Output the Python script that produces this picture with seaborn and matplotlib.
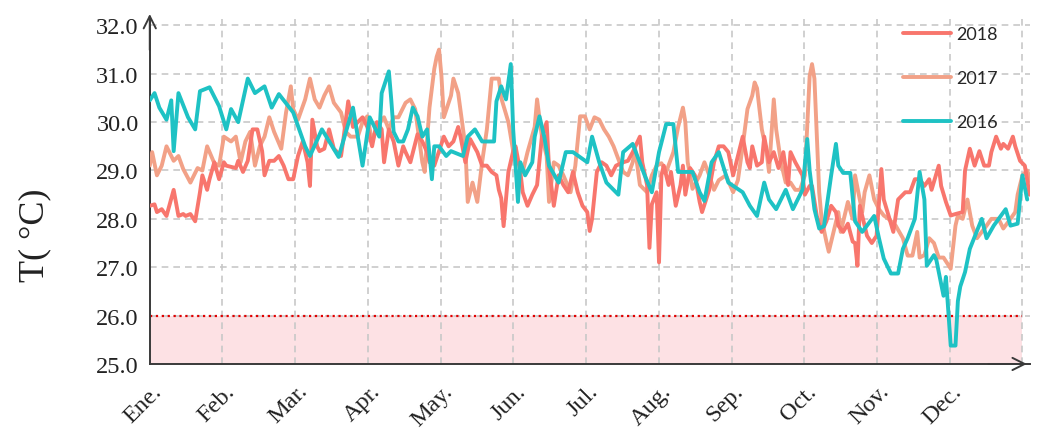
import numpy as np
import pandas as pd
import matplotlib
matplotlib.use('Agg')
import matplotlib.pyplot as plt
import matplotlib.transforms as mtransforms
import seaborn as sns

# daily sea temperature (°C), day of year -> value
days_2018 = [0, 2, 3, 5, 7, 10, 12, 14, 15, 17, 19, 21, 22, 24, 25, 27, 29, 31, 32, 36, 37, 39, 41, 43, 45,
             47, 48, 50, 52, 54, 56, 58, 60, 62, 64, 66, 67, 68, 70, 71, 73, 75, 77, 80, 81, 83, 85, 87, 89,
             91, 93, 95, 97, 98, 100, 102, 104, 106, 107, 109, 112, 114, 116, 117, 119, 121, 123, 125, 127,
             129, 130, 132, 134, 137, 139, 141, 143, 145, 146, 147, 148, 150, 152, 153, 155, 156, 158, 160,
             162, 164, 166, 167, 169, 171, 173, 175, 177, 179, 181, 183, 184, 185, 187, 189, 191, 193, 195,
             198, 200, 202, 205, 206, 208, 209, 210, 212, 213, 214, 215, 217, 218, 220, 222, 223, 224, 226,
             228, 230, 231, 234, 236, 238, 240, 242, 244, 246, 248, 250, 251, 252, 254, 256, 257, 259, 261,
             263, 265, 267, 268, 270, 273, 274, 276, 277, 279, 281, 283, 285, 287, 288, 290, 292, 294, 295,
             296, 297, 299, 300, 302, 304, 306, 307, 309, 311, 313, 316, 318, 320, 322, 324, 326, 327, 330,
             331, 333, 335, 337, 340, 341, 343, 345, 347, 349, 351, 352, 354, 356, 357, 359, 361, 362, 364,
             366, 368]
temp_2018 = [28.27, 28.3, 28.14, 28.2, 28.06, 28.6, 28.06, 28.1, 28.06, 28.1, 27.95, 28.55, 28.9, 28.6, 28.82,
             29.17, 28.82, 29.17, 29.1, 29.05, 29.2, 28.97, 29.2, 29.85, 29.85, 29.4, 28.9, 29.2, 29.2, 29.3,
             29.1, 28.82, 28.82, 29.3, 29.6, 29.17, 28.68, 30.05, 29.5, 29.4, 29.45, 29.85, 29.45, 29.3, 29.65,
             30.43, 29.9, 30.0, 30.1, 29.9, 29.5, 30.0, 29.85, 29.17, 29.85, 29.6, 29.1, 29.5, 29.38, 29.17,
             29.75, 29.6, 29.38, 29.17, 29.1, 29.4, 29.7, 29.5, 29.6, 29.9, 29.7, 29.17, 29.65, 29.38, 29.1,
             29.1, 28.97, 28.9, 28.6, 28.43, 27.85, 28.97, 29.4, 29.5, 28.97, 28.55, 28.27, 28.5, 28.7, 29.7,
             30.0, 29.05, 28.27, 28.9, 28.7, 28.55, 28.97, 28.55, 28.27, 28.14, 27.75, 28.0, 28.97, 29.17, 29.1,
             28.9, 29.1, 29.17, 29.2, 29.38, 29.7, 29.17, 28.7, 27.4, 28.3, 28.55, 27.1, 28.9, 29.1, 28.7, 28.97,
             28.27, 28.7, 29.1, 28.5, 29.05, 28.9, 28.35, 28.14, 28.6, 29.17, 29.5, 29.5, 29.38, 28.9, 29.3,
             29.7, 29.17, 29.05, 29.5, 29.1, 29.17, 29.7, 29.17, 29.38, 29.05, 29.38, 28.7, 29.38, 29.17, 28.9,
             28.5, 28.68, 28.68, 28.06, 27.73, 27.95, 28.27, 28.14, 27.86, 27.73, 27.9, 27.53, 27.5, 27.03,
             28.27, 27.86, 27.65, 27.5, 27.65, 29.03, 28.4, 28.07, 27.73, 28.4, 28.55, 28.55, 28.82, 28.82,
             28.68, 28.82, 28.6, 29.1, 28.68, 28.35, 28.07, 28.1, 28.14, 29.0, 29.45, 29.1, 29.4, 29.1, 29.1,
             29.38, 29.7, 29.45, 29.55, 29.45, 29.7, 29.5, 29.2, 29.1, 28.5]

days_2017 = [0, 1, 3, 5, 7, 10, 12, 14, 17, 20, 22, 24, 27, 29, 31, 34, 36, 38, 40, 42, 44, 46, 48, 50, 52,
             55, 57, 59, 60, 62, 65, 67, 69, 71, 73, 75, 77, 80, 82, 84, 87, 89, 91, 93, 95, 98, 100, 102,
             104, 107, 109, 111, 112, 114, 115, 117, 119, 120, 121, 122, 123, 125, 126, 127, 129, 132, 133,
             135, 137, 139, 141, 143, 146, 147, 150, 152, 154, 156, 158, 161, 162, 164, 166, 167, 169, 171,
             173, 176, 178, 180, 182, 184, 186, 188, 190, 192, 194, 197, 198, 200, 202, 203, 205, 208, 210,
             212, 214, 216, 219, 221, 223, 224, 225, 227, 230, 232, 234, 236, 238, 241, 244, 246, 248, 250,
             252, 253, 254, 256, 258, 259, 261, 262, 264, 266, 268, 270, 272, 274, 276, 277, 278, 280, 281,
             283, 284, 286, 288, 289, 292, 294, 295, 298, 299, 301, 303, 305, 307, 309, 312, 315, 317, 319,
             321, 322, 324, 326, 328, 330, 332, 335, 337, 338, 340, 342, 344, 346, 350, 352, 355, 357, 360,
             362, 363, 365, 367, 369]
temp_2017 = [29.1, 29.38, 28.9, 29.1, 29.5, 29.2, 29.3, 29.03, 28.75, 29.05, 29.0, 29.5, 29.15, 29.1, 29.7,
             29.6, 29.7, 29.17, 29.6, 29.8, 29.1, 29.5, 29.7, 30.1, 29.8, 29.45, 30.2, 30.74, 30.27, 30.05,
             30.47, 30.9, 30.47, 30.3, 30.55, 30.74, 30.4, 30.2, 29.8, 29.7, 29.7, 30.0, 30.12, 29.6, 29.9,
             30.1, 29.85, 30.1, 30.1, 30.4, 30.47, 30.27, 29.9, 29.17, 28.97, 30.3, 31.1, 31.35, 31.5, 30.95,
             30.1, 30.4, 30.55, 30.9, 30.6, 29.5, 28.35, 28.75, 28.35, 29.17, 29.85, 30.9, 30.9, 30.5, 30.0,
             29.4, 29.2, 28.97, 29.38, 29.9, 30.47, 29.7, 29.3, 28.35, 29.17, 29.1, 28.9, 28.55, 29.1, 30.12,
             30.12, 29.85, 30.1, 30.05, 29.85, 29.7, 29.5, 29.1, 28.97, 28.9, 29.17, 29.45, 28.7, 28.55, 28.9,
             29.1, 29.15, 28.97, 29.38, 29.9, 30.3, 30.0, 29.17, 28.62, 28.9, 29.17, 28.9, 28.6, 28.8, 28.9,
             28.55, 28.8, 29.5, 30.27, 30.55, 30.82, 30.7, 29.85, 29.38, 28.97, 30.47, 29.85, 29.17, 28.75,
             28.75, 28.6, 28.6, 28.9, 30.95, 31.2, 30.9, 28.55, 28.0, 27.53, 27.32, 27.73, 28.14, 27.73, 28.35,
             28.0, 28.9, 28.14, 28.55, 28.9, 28.4, 28.2, 28.07, 28.0, 27.86, 27.6, 27.24, 27.24, 27.73, 27.2,
             27.25, 27.6, 27.5, 27.2, 27.2, 26.97, 27.86, 28.07, 28.0, 28.4, 27.86, 27.6, 27.86, 28.0, 28.0,
             27.8, 28.0, 28.14, 28.5, 28.9, 29.0, 28.7]

days_2016 = [0, 2, 4, 7, 9, 10, 12, 16, 19, 21, 25, 29, 32, 34, 37, 41, 44, 48, 51, 54, 60, 65, 67, 72, 79,
             85, 89, 92, 96, 97, 100, 101, 102, 104, 106, 108, 110, 112, 114, 116, 118, 119, 121, 124, 126,
             131, 133, 136, 139, 144, 145, 147, 149, 151, 152, 154, 155, 157, 160, 161, 163, 165, 167, 171,
             174, 177, 183, 185, 188, 191, 196, 198, 202, 207, 210, 213, 216, 219, 221, 227, 230, 232, 235,
             238, 242, 248, 251, 254, 257, 259, 262, 266, 269, 273, 275, 276, 278, 280, 282, 285, 287, 288,
             290, 293, 295, 298, 303, 305, 307, 310, 313, 315, 317, 320, 322, 324, 325, 328, 329, 332, 333,
             335, 337, 338, 339, 341, 343, 348, 350, 353, 358, 360, 363, 365, 367]
temp_2016 = [30.45, 30.6, 30.3, 30.05, 30.45, 29.4, 30.6, 30.1, 29.85, 30.64, 30.72, 30.33, 29.85, 30.27, 30.0,
             30.9, 30.6, 30.74, 30.3, 30.58, 30.2, 29.5, 29.3, 29.85, 29.28, 30.3, 29.1, 30.1, 29.7, 30.6,
             31.05, 30.47, 29.8, 29.6, 29.6, 29.85, 30.3, 30.12, 29.7, 29.85, 28.82, 29.5, 29.5, 29.3, 29.4,
             29.3, 29.7, 29.85, 29.6, 29.6, 30.43, 30.74, 30.47, 31.2, 29.85, 28.35, 29.17, 28.9, 29.17, 29.7,
             30.12, 29.7, 29.1, 28.75, 29.38, 29.38, 29.17, 29.7, 29.17, 28.75, 28.5, 29.38, 29.55, 28.9,
             28.55, 29.38, 29.96, 29.96, 28.97, 28.97, 28.55, 28.37, 29.17, 29.38, 28.75, 28.55, 28.27, 28.06,
             28.75, 28.4, 28.2, 28.6, 28.2, 28.6, 29.65, 29.0, 28.2, 27.8, 27.85, 28.9, 29.55, 29.1, 28.95,
             28.95, 27.95, 27.73, 28.06, 27.6, 27.18, 26.87, 26.87, 27.38, 27.6, 28.0, 28.97, 28.4, 27.03,
             27.25, 27.15, 26.41, 26.8, 25.38, 25.38, 26.3, 26.6, 26.9, 27.38, 28.0, 27.6, 27.86, 28.2, 27.86,
             27.9, 28.9, 28.4]

months = ['Ene.', 'Feb.', 'Mar.', 'Apr.', 'May.', 'Jun.', 'Jul.', 'Aug.', 'Sep.', 'Oct.', 'Nov.', 'Dec.']
y_ticks = [25, 26, 27, 28, 29, 30, 31, 32]
threshold = 26.0
year_days = 365

colors = {'2018': '#F8766D', '2017': '#F2A187', '2016': '#1EC2C4'}

# long-format table for seaborn
df = pd.concat([
    pd.DataFrame({'day': days_2017, 'temp': temp_2017, 'year': '2017'}),
    pd.DataFrame({'day': days_2018, 'temp': temp_2018, 'year': '2018'}),
    pd.DataFrame({'day': days_2016, 'temp': temp_2016, 'year': '2016'}),
], ignore_index=True)

sns.set_style('white')
plt.rcParams['font.family'] = ['Liberation Serif', 'DejaVu Serif']

fig = plt.figure(figsize=(10.4, 4.35), dpi=100)
ax = fig.add_axes([0.144, 0.161, 0.846, 0.795])

# shaded zone below threshold
ax.fill_between([0, year_days], 25, threshold, color='#FDE1E4', lw=0, zorder=0)
ax.plot([0, year_days], [threshold, threshold], color='#E00000', ls=':', lw=1.6, zorder=1)

for yr in ['2017', '2018', '2016']:
    sns.lineplot(data=df[df['year'] == yr], x='day', y='temp', color=colors[yr],
                 linewidth=2.8, label=yr, estimator=None, ax=ax, zorder=3)

# month ticks equally spaced like the original
month_pos = np.arange(12) * year_days / 12
ax.set_xticks(month_pos)
ax.set_xticklabels(months)
ax.set_yticks(y_ticks)
ax.set_yticklabels([f'{v:.1f}' for v in y_ticks])
ax.set_xlim(0, 368)
ax.set_ylim(25, 32.15)

grid_kw = dict(color='#C8C8C8', ls=(0, (4, 3)), lw=1.2)
ax.grid(True, **grid_kw)
ax.axvline(year_days, zorder=0.5, **grid_kw)
ax.set_axisbelow(True)

for s in ['top', 'right']:
    ax.spines[s].set_visible(False)
for s in ['left', 'bottom']:
    ax.spines[s].set_color('#3A3A3A')
    ax.spines[s].set_linewidth(1.4)

# arrow heads on the axes
arrow_kw = dict(arrowstyle='->', color='#3A3A3A', lw=1.4, mutation_scale=22)
ax.annotate('', xy=(0, 1.02), xytext=(0, 0.9), xycoords='axes fraction',
            arrowprops=arrow_kw, annotation_clip=False)
ax.annotate('', xy=(1.0, 0), xytext=(0.95, 0), xycoords='axes fraction',
            arrowprops=arrow_kw, annotation_clip=False)

ax.tick_params(axis='y', length=0, pad=8, labelsize=17.5, labelcolor='#222222')
ax.tick_params(axis='x', length=0, pad=17, labelsize=17.5, labelcolor='#222222')
offset = mtransforms.ScaledTranslation(0.09, 0, fig.dpi_scale_trans)
for lbl in ax.get_xticklabels():
    lbl.set_rotation(45)
    lbl.set_ha('right')
    lbl.set_va('center')
    lbl.set_rotation_mode('anchor')
    lbl.set_transform(lbl.get_transform() + offset)

ax.set_xlabel('')
ax.set_ylabel('T( °C)', fontsize=26, color='#222222')
ax.yaxis.label.set(va='center', ha='center')
ax.yaxis.set_label_coords(-0.131, 0.376)

handles, labels = ax.get_legend_handles_labels()
order = [labels.index(y) for y in ['2018', '2017', '2016']]
leg = ax.legend([handles[i] for i in order], [labels[i] for i in order],
                loc='upper left', bbox_to_anchor=(0.868, 0.938), bbox_transform=fig.transFigure,
                frameon=False, prop={'family': 'Lato', 'size': 13},
                handlelength=2.7, handletextpad=0.25, labelspacing=1.55,
                borderpad=0, borderaxespad=0)
for h in leg.get_lines():
    h.set_linewidth(2.8)

fig.savefig('out.png', dpi=100)
